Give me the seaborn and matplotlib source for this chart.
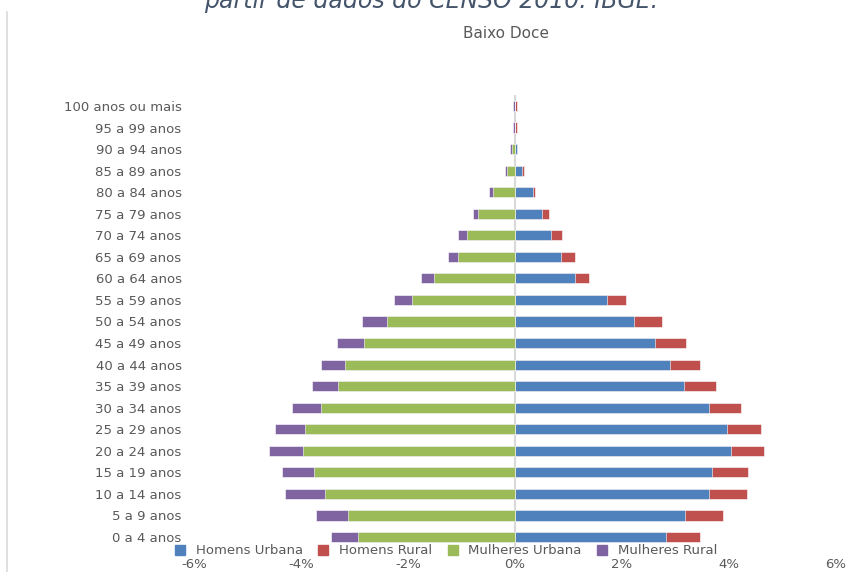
import matplotlib
matplotlib.use('Agg')
import matplotlib.pyplot as plt
from matplotlib.lines import Line2D
import pandas as pd
import seaborn as sns

# faixas etarias, de cima para baixo
faixas = ['100 anos ou mais', '95 a 99 anos', '90 a 94 anos', '85 a 89 anos',
          '80 a 84 anos', '75 a 79 anos', '70 a 74 anos', '65 a 69 anos',
          '60 a 64 anos', '55 a 59 anos', '50 a 54 anos', '45 a 49 anos',
          '40 a 44 anos', '35 a 39 anos', '30 a 34 anos', '25 a 29 anos',
          '20 a 24 anos', '15 a 19 anos', '10 a 14 anos', '5 a 9 anos',
          '0 a 4 anos']

# % da populacao total
homens_urbana = [0.005, 0.005, 0.03, 0.14, 0.33, 0.50, 0.67, 0.86, 1.12, 1.72, 2.22,
                 2.62, 2.89, 3.16, 3.63, 3.96, 4.03, 3.69, 3.63, 3.18, 2.82]
homens_rural = [0.04, 0.04, 0.01, 0.03, 0.04, 0.13, 0.20, 0.27, 0.26, 0.36, 0.53,
                0.57, 0.57, 0.60, 0.60, 0.63, 0.63, 0.67, 0.70, 0.70, 0.63]
mulheres_urbana = [0.005, 0.005, 0.06, 0.15, 0.42, 0.69, 0.89, 1.06, 1.52, 1.92, 2.39,
                   2.83, 3.17, 3.30, 3.63, 3.93, 3.96, 3.76, 3.56, 3.13, 2.93]
mulheres_rural = [0.03, 0.03, 0.03, 0.04, 0.06, 0.09, 0.17, 0.20, 0.23, 0.34, 0.47,
                  0.50, 0.46, 0.50, 0.53, 0.56, 0.63, 0.60, 0.73, 0.59, 0.50]

series = ['Homens Urbana', 'Homens Rural', 'Mulheres Urbana', 'Mulheres Rural']
cores = ['#4f81bd', '#c0504d', '#9bbb59', '#8064a2']
xticks = [-6, -4, -2, 0, 2, 4, 6]

df = pd.DataFrame({'faixa': faixas,
                   'hu': homens_urbana, 'hr': homens_rural,
                   'mu': mulheres_urbana, 'mr': mulheres_rural})
df['h_total'] = df['hu'] + df['hr']
df['m_total'] = -(df['mu'] + df['mr'])
df['m_urb'] = -df['mu']

cinza = '#595959'
plt.rcParams['font.family'] = ['DejaVu Sans']

fig = plt.figure(figsize=(8.57, 5.72), dpi=100)
ax = fig.add_axes([194 / 857, 1 - 547.8 / 572, (836 - 194) / 857, 452.6 / 572])

kw = dict(y='faixa', order=faixas, orient='h', width=0.47, errorbar=None,
          edgecolor='white', linewidth=0.4, ax=ax)
# empilhado: total primeiro, parte urbana por cima
sns.barplot(data=df, x='h_total', color=cores[1], saturation=1, **kw)
sns.barplot(data=df, x='hu', color=cores[0], saturation=1, **kw)
sns.barplot(data=df, x='m_total', color=cores[3], saturation=1, **kw)
sns.barplot(data=df, x='m_urb', color=cores[2], saturation=1, **kw)

ax.axvline(0, color='#d9d9d9', lw=1.5, zorder=0)
ax.set_xlim(-6, 6)
ax.set_xticks(xticks)
ax.set_xticklabels([f'{t}%' for t in xticks])
ax.set_xlabel('')
ax.set_ylabel('')
ax.tick_params(axis='both', length=0, colors=cinza, labelsize=9.5)
ax.tick_params(axis='x', pad=7)
ax.tick_params(axis='y', pad=9)
for s in ax.spines.values():
    s.set_visible(False)

handles = [Line2D([], [], marker='s', linestyle='', color=c, markersize=7) for c in cores]
fig.legend(handles, series, loc='center', bbox_to_anchor=(442 / 857, 1 - 551 / 572),
           ncol=4, frameon=False, fontsize=9.5, handletextpad=0.2, columnspacing=0.55,
           labelcolor=cinza)

fig.text(506 / 857, 1 - 33 / 572, 'Baixo Doce', ha='center', va='center',
         fontsize=11, color=cinza)
fig.text(431 / 857, 1 - 8 / 572, 'partir de dados do CENSO 2010. IBGE.', ha='center',
         va='baseline', fontsize=17, style='italic', color='#44546a')
fig.add_artist(Line2D([7 / 857, 7 / 857], [0, 1 - 12 / 572], color='#d9d9d9', lw=1.2))

fig.savefig('out.png', dpi=100)
